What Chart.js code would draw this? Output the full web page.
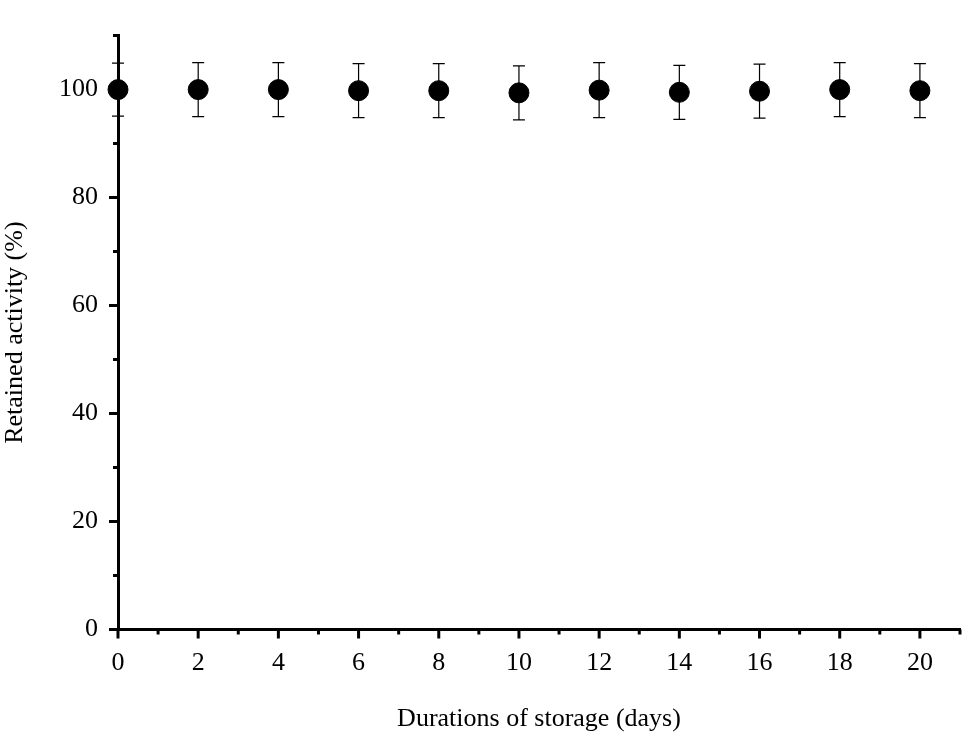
<!DOCTYPE html>
<html>
<head>
<meta charset="utf-8">
<script src="https://cdn.jsdelivr.net/npm/chart.js@4/dist/chart.umd.min.js"></script>
<style>
  html, body { margin: 0; padding: 0; background: #fff; }
  #wrap { width: 971px; height: 739px; position: relative; }
</style>
</head>
<body>
<div id="wrap"><canvas id="myChart"></canvas></div>
<script>
// storage days and retained activity (%)
const days = [0, 2, 4, 6, 8, 10, 12, 14, 16, 18, 20];
const activity = [100, 100, 100, 99.8, 99.8, 99.4, 99.9, 99.5, 99.7, 100, 99.8];
const errors = [4.9, 5.0, 5.0, 5.0, 5.0, 5.0, 5.1, 5.0, 5.0, 5.0, 5.0];
const xTicks = [0, 2, 4, 6, 8, 10, 12, 14, 16, 18, 20];
const yTicks = [0, 20, 40, 60, 80, 100];

const serif = '"Liberation Serif", "DejaVu Serif", serif';

const errorBars = {
    id: 'errorBars',
    beforeDatasetsDraw(chart) {
        const { ctx, scales: { x, y } } = chart;
        ctx.save();
        ctx.strokeStyle = '#000';
        ctx.lineWidth = 1.2;
        for (let i = 0; i < days.length; i++) {
            const px = x.getPixelForValue(days[i]);
            const top = y.getPixelForValue(activity[i] + errors[i]);
            const bot = y.getPixelForValue(activity[i] - errors[i]);
            ctx.beginPath();
            ctx.moveTo(px, top); ctx.lineTo(px, bot);
            ctx.moveTo(px - 6, top); ctx.lineTo(px + 6, top);
            ctx.moveTo(px - 6, bot); ctx.lineTo(px + 6, bot);
            ctx.stroke();
        }
        ctx.restore();
    },
    afterDraw(chart) {
        // outward major and minor ticks
        const { ctx, scales: { x, y }, chartArea } = chart;
        ctx.save();
        ctx.strokeStyle = '#000';
        ctx.lineWidth = 3;
        ctx.beginPath();
        for (let v = 0; v <= 21; v++) {
            const px = x.getPixelForValue(v);
            const len = v % 2 === 0 ? 9 : 5;
            ctx.moveTo(px, chartArea.bottom); ctx.lineTo(px, chartArea.bottom + len);
        }
        for (let v = 0; v <= 110; v += 10) {
            const py = y.getPixelForValue(v);
            const len = v % 20 === 0 ? 9 : 5;
            ctx.moveTo(chartArea.left, py); ctx.lineTo(chartArea.left - len, py);
        }
        ctx.stroke();
        ctx.restore();
    }
};

new Chart(document.getElementById('myChart'), {
    type: 'scatter',
    data: {
        datasets: [{
            data: days.map((d, i) => ({ x: d, y: activity[i] })),
            backgroundColor: '#000',
            borderColor: '#000',
            pointRadius: 10,
            pointHoverRadius: 10
        }]
    },
    options: {
        responsive: true,
        maintainAspectRatio: false,
        animation: false,
        clip: false,
        layout: { padding: { top: -34, right: -5, left: 0, bottom: 0 } },
        plugins: { legend: { display: false }, tooltip: { enabled: false } },
        scales: {
            x: {
                min: 0, max: 21,
                afterBuildTicks: s => { s.ticks = xTicks.map(v => ({ value: v })); },
                grid: { display: false, drawTicks: false },
                border: { color: '#000', width: 3 },
                ticks: { color: '#000', padding: 18, font: { family: serif, size: 26 } },
                title: { display: true, text: 'Durations of storage (days)', color: '#000', padding: { top: 7 }, font: { family: serif, size: 26 } }
            },
            y: {
                min: 0, max: 110,
                afterBuildTicks: s => { s.ticks = yTicks.map(v => ({ value: v })); },
                afterFit: s => { s.width = 118; },
                grid: { display: false, drawTicks: false },
                border: { color: '#000', width: 3 },
                ticks: { color: '#000', padding: 20, font: { family: serif, size: 26 } },
                title: { display: true, text: 'Retained activity (%)', color: '#000', padding: 0, font: { family: serif, size: 26 } }
            }
        }
    },
    plugins: [errorBars]
});
</script>
</body>
</html>
